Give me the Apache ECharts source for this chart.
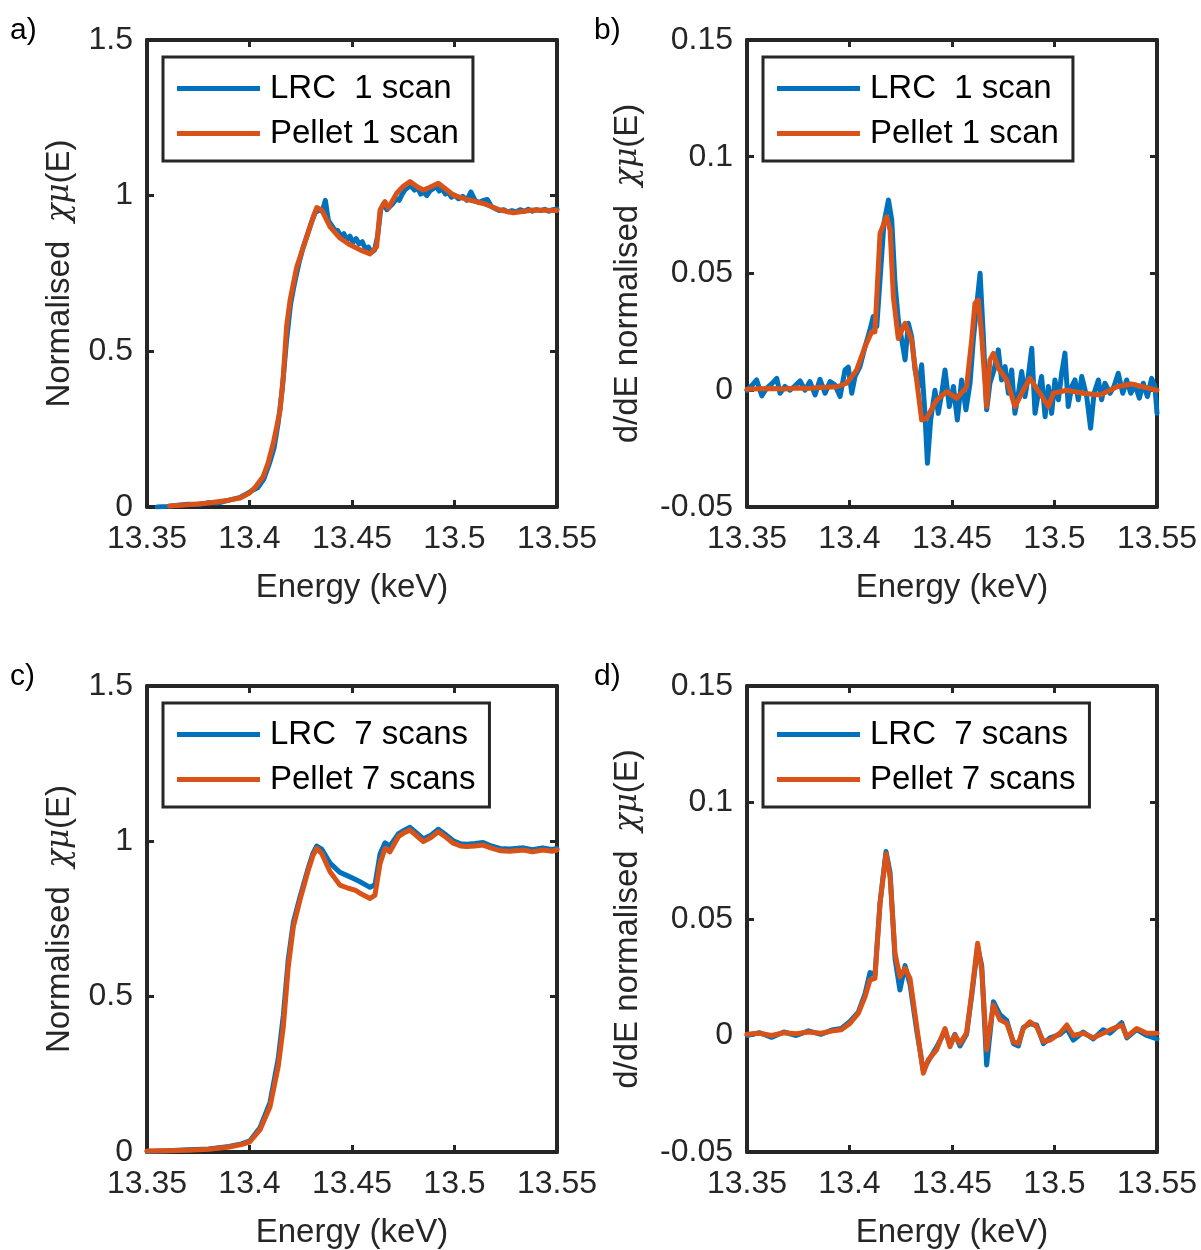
<!DOCTYPE html>
<html>
<head>
<meta charset="utf-8">
<script src="https://cdn.jsdelivr.net/npm/echarts@6/dist/echarts.min.js"></script>
<style>
  html, body { margin: 0; padding: 0; background: #fff; }
  #main { width: 1201px; height: 1250px; }
</style>
</head>
<body>
<div id="main"></div>
<script>
// a) normalised absorption, 1 scan
var lrc1E = [13.355, 13.360, 13.365, 13.370, 13.375, 13.380, 13.385, 13.390, 13.395, 13.398,
  13.401, 13.404, 13.407, 13.410, 13.412, 13.414, 13.416, 13.418, 13.420, 13.422,
  13.424, 13.426, 13.428, 13.430, 13.432, 13.434, 13.4355, 13.437, 13.4385, 13.440,
  13.4415, 13.443, 13.4445, 13.446, 13.4475, 13.449, 13.4505, 13.452, 13.4535, 13.455,
  13.4565, 13.458, 13.4595, 13.461, 13.4625, 13.464, 13.4655, 13.467, 13.4685, 13.470,
  13.4715, 13.473, 13.4745, 13.476, 13.4775, 13.479, 13.4805, 13.482, 13.4835, 13.485,
  13.4865, 13.488, 13.4895, 13.491, 13.4925, 13.494, 13.4955, 13.497, 13.4985, 13.500,
  13.502, 13.504, 13.506, 13.508, 13.510, 13.512, 13.514, 13.516, 13.518, 13.520,
  13.522, 13.524, 13.526, 13.528, 13.530, 13.532, 13.534, 13.536, 13.538, 13.540,
  13.542, 13.544, 13.546, 13.548, 13.550];
var lrc1Mu = [0.0, 0.002, 0.006, 0.009, 0.008, 0.014, 0.013, 0.022, 0.030, 0.040,
  0.052, 0.062, 0.090, 0.145, 0.190, 0.270, 0.380, 0.530, 0.650, 0.720,
  0.780, 0.830, 0.870, 0.910, 0.945, 0.955, 0.950, 0.985, 0.920, 0.905,
  0.890, 0.888, 0.870, 0.878, 0.858, 0.870, 0.850, 0.862, 0.845, 0.852,
  0.830, 0.835, 0.818, 0.825, 0.870, 0.955, 0.975, 0.955, 0.965, 0.975,
  0.990, 0.985, 1.005, 1.020, 1.028, 1.030, 1.018, 1.025, 1.005, 1.012,
  1.000, 1.015, 1.022, 1.030, 1.015, 1.022, 1.005, 1.012, 0.995, 1.002,
  0.990, 0.998, 0.985, 1.012, 0.985, 0.978, 0.985, 0.988, 0.965, 0.958,
  0.952, 0.955, 0.948, 0.952, 0.948, 0.955, 0.950, 0.956, 0.950, 0.955,
  0.952, 0.956, 0.950, 0.955, 0.957];
var pel1E = [13.361, 13.370, 13.379, 13.390, 13.3954, 13.400, 13.403, 13.4066, 13.409, 13.4116,
  13.4149, 13.4165, 13.4181, 13.4198, 13.423, 13.4279, 13.431, 13.4328, 13.4352, 13.4393,
  13.4441, 13.449, 13.4539, 13.4588, 13.462, 13.4637, 13.4661, 13.4677, 13.4718, 13.475,
  13.4783, 13.482, 13.4848, 13.488, 13.4921, 13.496, 13.4994, 13.506, 13.514, 13.5222,
  13.5287, 13.5385, 13.5499];
var pel1Mu = [0.003, 0.007, 0.012, 0.022, 0.029, 0.045, 0.065, 0.097, 0.140, 0.205,
  0.310, 0.420, 0.580, 0.665, 0.770, 0.867, 0.930, 0.962, 0.954, 0.900,
  0.864, 0.842, 0.826, 0.813, 0.836, 0.954, 0.981, 0.960, 1.008, 1.030,
  1.045, 1.028, 1.018, 1.027, 1.040, 1.020, 1.002, 0.988, 0.975, 0.954,
  0.945, 0.954, 0.952];

// b) derivative, 1 scan
var lrc1dE = [13.3500, 13.3523, 13.3547, 13.3572, 13.3596, 13.3620, 13.3645, 13.3661, 13.3685, 13.3710,
  13.3734, 13.3759, 13.3783, 13.3807, 13.3832, 13.3856, 13.3881, 13.3905, 13.3929, 13.3954,
  13.3978, 13.3994, 13.4011, 13.4027, 13.4051, 13.4076, 13.4100, 13.4116, 13.4133, 13.4149,
  13.4168, 13.4190, 13.4206, 13.4222, 13.4238, 13.4255, 13.4271, 13.4287, 13.4303, 13.4320,
  13.4336, 13.4352, 13.4368, 13.4380, 13.4396, 13.4417, 13.4433, 13.4450, 13.4466, 13.4487,
  13.4507, 13.4526, 13.4547, 13.4568, 13.4588, 13.4604, 13.4620, 13.4637, 13.4653, 13.4669,
  13.4685, 13.4705, 13.4726, 13.4742, 13.4759, 13.4775, 13.4791, 13.4807, 13.4824, 13.4840,
  13.4856, 13.4872, 13.4889, 13.4905, 13.4921, 13.4937, 13.4954, 13.4970, 13.4986, 13.5002,
  13.5019, 13.5035, 13.5051, 13.5067, 13.5084, 13.5100, 13.5116, 13.5133, 13.5157, 13.5176,
  13.5193, 13.5214, 13.5230, 13.5246, 13.5271, 13.5290, 13.5311, 13.5333, 13.5352, 13.5372,
  13.5393, 13.5414, 13.5433, 13.5453, 13.5474, 13.5490, 13.5500];
var lrc1dMu = [0.0, 0.002, 0.0044, -0.0024, 0.0009, 0.0027, 0.0051, -0.0013, 0.0016, 0.0,
  0.0019, 0.004, 0.0, 0.0037, -0.002, 0.0047, -0.0013, 0.0037, 0.0023, -0.0027,
  0.0087, 0.0099, -0.0013, 0.0059, 0.0101, 0.0187, 0.0259, 0.0316, 0.0273, 0.0473,
  0.0716, 0.0815, 0.073, 0.0459, 0.0301, 0.0216, 0.013, 0.0287, 0.023, 0.0087,
  0.0016, 0.0109, -0.0099, -0.0313, -0.0127, 0.0, -0.0099, -0.0013, 0.0087, -0.007,
  0.0016, -0.0127, 0.0044, -0.0084, 0.003, 0.0216, 0.0359, 0.0501, 0.023, -0.0084,
  0.003, 0.0087, 0.0173, 0.0044, 0.0101, -0.0013, 0.0087, -0.0099, -0.0013, 0.008,
  -0.0027, 0.0059, 0.018, -0.0099, -0.0013, 0.0059, -0.0113, 0.0016, -0.0099, 0.0044,
  -0.0041, 0.0073, 0.0159, -0.007, 0.0016, 0.0044, -0.0041, 0.0059, -0.0027, -0.0163,
  -0.0013, 0.0044, -0.0041, 0.003, -0.0013, 0.0016, 0.0073, -0.0013, 0.0044, -0.0013,
  0.0023, -0.0034, 0.003, -0.0027, 0.0051, 0.0016, -0.0099];
var pel1dE = [13.350, 13.356, 13.362, 13.368, 13.374, 13.380, 13.386, 13.3938, 13.3986, 13.4035,
  13.4076, 13.4108, 13.4124, 13.4149, 13.4181, 13.4198, 13.4214, 13.4238, 13.4271, 13.4303,
  13.4352, 13.4376, 13.4425, 13.4474, 13.4523, 13.4571, 13.4596, 13.4612, 13.4628, 13.4645,
  13.4669, 13.4685, 13.4702, 13.4726, 13.4767, 13.4807, 13.4848, 13.488, 13.4929, 13.497,
  13.4994, 13.506, 13.514, 13.5222, 13.5305, 13.5375, 13.55];
var pel1dMu = [0.0004, 0.0006, 0.0008, 0.0005, 0.001, 0.0008, 0.0012, 0.0015, 0.003, 0.0087,
  0.0187, 0.025, 0.025, 0.0672, 0.0743, 0.0686, 0.040, 0.0222, 0.0287, 0.0215,
  -0.0127, -0.012, -0.0042, -0.0006, -0.0035, 0.0015, 0.0215, 0.0372, 0.0386, 0.023,
  -0.007, 0.013, 0.0158, 0.0094, 0.0044, -0.007, 0.0001, 0.0051, -0.0013, -0.007,
  -0.0013, 0.0, -0.0013, -0.002, 0.0015, 0.0027, 0.0];

// c) normalised absorption, 7 scans
var scan7E = [13.350, 13.360, 13.370, 13.380, 13.390, 13.396, 13.4002, 13.4051, 13.410, 13.414,
  13.4165, 13.4189, 13.4214, 13.4246, 13.4287, 13.431, 13.4328, 13.4352, 13.4393, 13.4441,
  13.4482, 13.4515, 13.4539, 13.4588, 13.4612, 13.4637, 13.4661, 13.4685, 13.4726, 13.4755,
  13.4783, 13.4815, 13.4848, 13.4885, 13.4921, 13.496, 13.4994, 13.503, 13.506, 13.510,
  13.514, 13.518, 13.5222, 13.527, 13.5336, 13.538, 13.543, 13.5475, 13.550];
var lrc7Mu = [0.002, 0.004, 0.007, 0.010, 0.018, 0.026, 0.036, 0.078, 0.160, 0.300,
  0.440, 0.620, 0.740, 0.820, 0.915, 0.962, 0.985, 0.975, 0.930, 0.900,
  0.888, 0.878, 0.870, 0.852, 0.860, 0.960, 0.995, 0.985, 1.024, 1.036,
  1.045, 1.027, 1.008, 1.020, 1.039, 1.020, 1.002, 0.992, 0.991, 0.993,
  0.996, 0.985, 0.977, 0.975, 0.979, 0.973, 0.979, 0.974, 0.977];
var pel7Mu = [0.003, 0.004, 0.006, 0.009, 0.016, 0.024, 0.033, 0.071, 0.146, 0.275,
  0.403, 0.596, 0.725, 0.811, 0.908, 0.955, 0.977, 0.961, 0.902, 0.859,
  0.849, 0.843, 0.833, 0.816, 0.827, 0.929, 0.977, 0.966, 1.015, 1.028,
  1.036, 1.018, 0.999, 1.012, 1.031, 1.012, 0.994, 0.985, 0.983, 0.985,
  0.988, 0.978, 0.970, 0.968, 0.972, 0.966, 0.972, 0.968, 0.972];

// d) derivative, 7 scans
var scan7dE = [13.350, 13.356, 13.362, 13.368, 13.374, 13.380, 13.386, 13.392, 13.396, 13.4002,
  13.4043, 13.4076, 13.410, 13.4124, 13.4149, 13.4178, 13.4198, 13.4222, 13.4246, 13.4271,
  13.4295, 13.4328, 13.436, 13.4384, 13.4425, 13.4466, 13.449, 13.4514, 13.4539, 13.4571,
  13.4596, 13.4625, 13.4645, 13.4669, 13.4702, 13.4734, 13.4767, 13.480, 13.4824, 13.4848,
  13.488, 13.4913, 13.4946, 13.4978, 13.5027, 13.506, 13.5092, 13.514, 13.5189, 13.5238,
  13.5271, 13.5328, 13.5353, 13.5401, 13.545, 13.550];
var lrc7dMu = [0.0, 0.0012, -0.0008, 0.0015, 0.0, 0.002, 0.0005, 0.0025, 0.003, 0.006,
  0.010, 0.018, 0.027, 0.026, 0.057, 0.079, 0.070, 0.033, 0.0195, 0.030,
  0.022, 0.002, -0.015, -0.011, -0.005, 0.002, -0.004, 0.0005, -0.0045, 0.0005,
  0.017, 0.038, 0.030, -0.0127, 0.0145, 0.009, 0.0065, -0.0035, -0.0045, 0.0035,
  0.005, 0.0045, -0.0035, -0.001, 0.0005, 0.003, -0.002, 0.0015, -0.0015, 0.0025,
  0.001, 0.0055, -0.001, 0.0025, 0.0, -0.0015];
var pel7dMu = [0.0005, 0.001, 0.0, 0.0012, 0.0008, 0.0015, 0.001, 0.002, 0.0025, 0.0052,
  0.0095, 0.0167, 0.0238, 0.0245, 0.0567, 0.078, 0.068, 0.0353, 0.0252, 0.0288,
  0.0245, 0.0038, -0.0162, -0.0105, -0.0062, 0.003, -0.0048, 0.0002, -0.0034, 0.001,
  0.018, 0.0396, 0.0281, -0.0062, 0.0131, 0.0067, 0.0052, -0.0027, -0.0034, 0.003,
  0.0059, 0.0038, -0.0027, -0.002, 0.001, 0.0045, 0.0, 0.001, -0.001, 0.001,
  0.0024, 0.0045, -0.0005, 0.003, 0.001, 0.001];

var names1 = ['LRC  1 scan', 'Pellet 1 scan'];
var names7 = ['LRC  7 scans', 'Pellet 7 scans'];

var FONT = 'Liberation Sans';
var INK = '#262626';
var BLUE = '#0072BD';
var ORANGE = '#D95319';

function pairs(xs, ys) {
  return xs.map(function (x, i) { return [x, ys[i]]; });
}
function fmt(v) { return String(+v.toFixed(2)); }

var normName = '{t|Normalised  }{m|χμ}{t|(E)}';
var derivName = '{t|d/dE normalised  }{m|χμ}{t|(E)}';

var panels = [
  { label: 'a)', left: 147, top: 40, height: 467, ymin: 0, ymax: 1.5, yint: 0.5,
    yname: normName, ygap: 71, names: names1,
    blue: pairs(lrc1E, lrc1Mu), orange: pairs(pel1E, pel1Mu) },
  { label: 'b)', left: 747, top: 40, height: 467, ymin: -0.05, ymax: 0.15, yint: 0.05,
    yname: derivName, ygap: 103, names: names1,
    blue: pairs(lrc1dE, lrc1dMu), orange: pairs(pel1dE, pel1dMu) },
  { label: 'c)', left: 147, top: 686, height: 466, ymin: 0, ymax: 1.5, yint: 0.5,
    yname: normName, ygap: 71, names: names7,
    blue: pairs(scan7E, lrc7Mu), orange: pairs(scan7E, pel7Mu) },
  { label: 'd)', left: 747, top: 686, height: 466, ymin: -0.05, ymax: 0.15, yint: 0.05,
    yname: derivName, ygap: 103, names: names7,
    blue: pairs(scan7dE, lrc7dMu), orange: pairs(scan7dE, pel7dMu) }
];

var grid = [], xAxis = [], yAxis = [], series = [], legend = [], graphic = [];
var line = { show: true, onZero: false, lineStyle: { color: INK, width: 4 } };
var tick = { show: true, inside: true, length: 7, lineStyle: { color: INK, width: 3 } };
var labelFont = { fontFamily: FONT, fontSize: 32, color: INK };

panels.forEach(function (p, i) {
  grid.push({ left: p.left, top: p.top, width: 410, height: p.height });

  // bottom + top x axes
  xAxis.push({
    type: 'value', gridIndex: i, position: 'bottom', min: 13.35, max: 13.55, interval: 0.05,
    axisLine: line, axisTick: tick, splitLine: { show: false },
    axisLabel: Object.assign({ margin: 16, formatter: fmt, showMinLabel: true, showMaxLabel: true }, labelFont),
    name: 'Energy (keV)', nameLocation: 'middle', nameGap: 64,
    nameTextStyle: { fontFamily: FONT, fontSize: 33, color: INK }
  });
  xAxis.push({
    type: 'value', gridIndex: i, position: 'top', min: 13.35, max: 13.55, interval: 0.05,
    axisLine: line, axisTick: tick, splitLine: { show: false }, axisLabel: { show: false }
  });

  // left + right y axes
  yAxis.push({
    type: 'value', gridIndex: i, position: 'left', min: p.ymin, max: p.ymax, interval: p.yint,
    axisLine: line, axisTick: tick, splitLine: { show: false },
    axisLabel: Object.assign({ margin: 14, formatter: fmt, showMinLabel: true, showMaxLabel: true }, labelFont),
    name: p.yname, nameLocation: 'middle', nameRotate: 90, nameGap: p.ygap,
    nameTextStyle: {
      rich: {
        t: { fontFamily: FONT, fontSize: 33, color: INK },
        m: { fontFamily: 'DejaVu Serif', fontStyle: 'italic', fontSize: 31, color: INK }
      }
    }
  });
  yAxis.push({
    type: 'value', gridIndex: i, position: 'right', min: p.ymin, max: p.ymax, interval: p.yint,
    axisLine: line, axisTick: tick, splitLine: { show: false }, axisLabel: { show: false }
  });

  series.push({
    name: p.names[0], type: 'line', xAxisIndex: 2 * i, yAxisIndex: 2 * i,
    data: p.blue, showSymbol: false, symbol: 'none', color: BLUE,
    lineStyle: { color: BLUE, width: 5, join: 'round', cap: 'round' }, z: 2
  });
  series.push({
    name: p.names[1], type: 'line', xAxisIndex: 2 * i, yAxisIndex: 2 * i,
    data: p.orange, showSymbol: false, symbol: 'none', color: ORANGE,
    lineStyle: { color: ORANGE, width: 5, join: 'round', cap: 'round' }, z: 3
  });

  legend.push({
    left: p.left + 16, top: p.top + 17, orient: 'vertical', data: p.names,
    icon: 'rect', itemWidth: 83, itemHeight: 5, itemGap: 12,
    padding: [15, 14, 11, 14], borderColor: INK, borderWidth: 3, backgroundColor: '#fff',
    selectedMode: false, itemStyle: { borderWidth: 0 },
    textStyle: { fontFamily: FONT, fontSize: 33, color: '#000', padding: [0, 0, 0, 5] }
  });

  graphic.push({
    type: 'text', left: p.left < 400 ? 10 : 594, top: p.top - 24,
    style: { text: p.label, fontFamily: FONT, fontSize: 30, fill: '#000' }
  });
});

var myChart = echarts.init(document.getElementById('main'));
myChart.setOption({
  backgroundColor: '#fff',
  animation: false,
  grid: grid,
  xAxis: xAxis,
  yAxis: yAxis,
  legend: legend,
  series: series,
  graphic: graphic
});
</script>
</body>
</html>
